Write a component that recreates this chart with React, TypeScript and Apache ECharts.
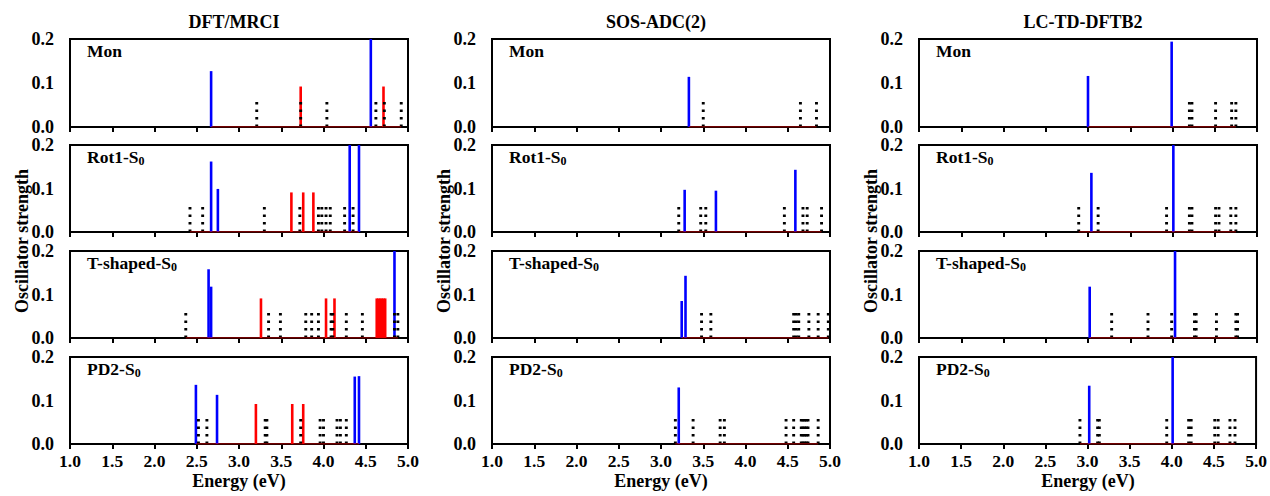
import { useEffect, useRef } from "react";
import * as echarts from "echarts";

type Stick = [number, number];

// ---- Column titles and panel names ----
const methods = ["DFT/MRCI", "SOS-ADC(2)", "LC-TD-DFTB2"];
const structures = ["Mon", "Rot1-S", "T-shaped-S", "PD2-S"];
const structureSub = ["", "0", "0", "0"];

const yTicks = [0, 0.1, 0.2];
const xMin = 1.0;
const xMax = 5.0;
const xStep = 0.5;
const darkHeight = 0.067;

// ---- DFT/MRCI ----
const mrciMonBlue: Stick[] = [[2.67, 0.127], [4.56, 0.2]];
const mrciMonRed: Stick[] = [[3.73, 0.092], [4.71, 0.092]];
const mrciMonDark = [3.21, 3.73, 4.04, 4.62, 4.72, 4.92];

const mrciRotBlue: Stick[] = [[2.67, 0.162], [2.75, 0.099], [4.31, 0.2], [4.42, 0.2]];
const mrciRotRed: Stick[] = [[3.62, 0.091], [3.76, 0.091], [3.88, 0.091]];
const mrciRotDark = [2.42, 2.57, 3.3, 3.72, 3.94, 3.98, 4.03, 4.08, 4.25, 4.35];

const mrciTBlue: Stick[] = [[2.64, 0.158], [2.67, 0.118], [4.84, 0.2]];
const mrciTRed: Stick[] = [
  [3.26, 0.091], [4.03, 0.091], [4.13, 0.091],
  [4.63, 0.091], [4.65, 0.091], [4.67, 0.091], [4.69, 0.091], [4.71, 0.091], [4.73, 0.091],
];
const mrciTDark = [2.37, 3.35, 3.49, 3.79, 3.86, 3.94, 4.09, 4.11, 4.27, 4.46, 4.84, 4.88];

const mrciPdBlue: Stick[] = [[2.49, 0.136], [2.74, 0.113], [4.37, 0.155], [4.42, 0.156]];
const mrciPdRed: Stick[] = [[3.2, 0.092], [3.63, 0.092], [3.76, 0.092]];
const mrciPdDark = [2.52, 2.62, 3.31, 3.33, 3.73, 3.96, 4.0, 4.16, 4.2, 4.27];

// ---- SOS-ADC(2) ----
const adcMonBlue: Stick[] = [[3.33, 0.114]];
const adcMonRed: Stick[] = [];
const adcMonDark = [3.5, 4.65, 4.84];

const adcRotBlue: Stick[] = [[3.28, 0.097], [3.65, 0.095], [4.59, 0.143]];
const adcRotRed: Stick[] = [];
const adcRotDark = [3.21, 3.47, 3.53, 4.46, 4.68, 4.73, 4.9];

const adcTBlue: Stick[] = [[3.245, 0.085], [3.29, 0.143]];
const adcTRed: Stick[] = [];
const adcTDark = [3.48, 3.59, 4.57, 4.6, 4.63, 4.75, 4.86, 4.98];

const adcPdBlue: Stick[] = [[3.21, 0.13]];
const adcPdRed: Stick[] = [];
const adcPdDark = [3.17, 3.38, 3.7, 3.75, 4.48, 4.57, 4.66, 4.68, 4.7, 4.72, 4.74, 4.86];

// ---- LC-TD-DFTB2 ----
const dftbMonBlue: Stick[] = [[3.0, 0.116], [3.99, 0.194]];
const dftbMonRed: Stick[] = [];
const dftbMonDark = [4.2, 4.23, 4.51, 4.7, 4.75];

const dftbRotBlue: Stick[] = [[3.04, 0.136], [4.01, 0.2]];
const dftbRotRed: Stick[] = [];
const dftbRotDark = [2.89, 3.12, 3.93, 4.2, 4.23, 4.51, 4.55, 4.69, 4.75];

const dftbTBlue: Stick[] = [[3.02, 0.118], [4.03, 0.2]];
const dftbTRed: Stick[] = [];
const dftbTDark = [3.28, 3.71, 3.99, 4.26, 4.28, 4.52, 4.75, 4.77];

const dftbPdBlue: Stick[] = [[3.02, 0.134], [4.01, 0.2]];
const dftbPdRed: Stick[] = [];
const dftbPdDark = [2.91, 3.12, 3.14, 3.94, 4.2, 4.23, 4.51, 4.55, 4.69, 4.75];

// panels[col][row]
const panels = [
  [
    { blue: mrciMonBlue, red: mrciMonRed, dark: mrciMonDark },
    { blue: mrciRotBlue, red: mrciRotRed, dark: mrciRotDark },
    { blue: mrciTBlue, red: mrciTRed, dark: mrciTDark },
    { blue: mrciPdBlue, red: mrciPdRed, dark: mrciPdDark },
  ],
  [
    { blue: adcMonBlue, red: adcMonRed, dark: adcMonDark },
    { blue: adcRotBlue, red: adcRotRed, dark: adcRotDark },
    { blue: adcTBlue, red: adcTRed, dark: adcTDark },
    { blue: adcPdBlue, red: adcPdRed, dark: adcPdDark },
  ],
  [
    { blue: dftbMonBlue, red: dftbMonRed, dark: dftbMonDark },
    { blue: dftbRotBlue, red: dftbRotRed, dark: dftbRotDark },
    { blue: dftbTBlue, red: dftbTRed, dark: dftbTDark },
    { blue: dftbPdBlue, red: dftbPdRed, dark: dftbPdDark },
  ],
];

const FONT = "'Liberation Serif', 'Times New Roman', serif";
const colLeft = [70, 492, 919];
const gridW = 338;
const rowTop = [39, 145, 251, 357];
const rowH = [88, 87, 87, 87];

function stickSeries(idx: number, data: Stick[], color: string, width: number, dash?: number[]) {
  return {
    type: "custom",
    xAxisIndex: idx,
    yAxisIndex: idx,
    data,
    encode: { x: 0, y: 1 },
    silent: true,
    renderItem: (_p: any, api: any) => {
      const x = api.value(0);
      const h = api.value(1);
      const p0 = api.coord([x, 0]);
      const p1 = api.coord([x, h]);
      return {
        type: "line",
        shape: { x1: p0[0], y1: p0[1], x2: p1[0], y2: p1[1] },
        style: { stroke: color, lineWidth: width, lineDash: dash || null, fill: null },
      };
    },
  };
}

export default function App() {
  const ref = useRef<HTMLDivElement>(null);
  useEffect(() => {
    if (!ref.current) return;
    const chart = echarts.init(ref.current, undefined, { renderer: "svg" });
    const grids: any[] = [];
    const xAxes: any[] = [];
    const yAxes: any[] = [];
    const series: any[] = [];
    const graphics: any[] = [];

    for (let c = 0; c < 3; c++) {
      for (let r = 0; r < 4; r++) {
        const idx = c * 4 + r;
        const p = panels[c][r];
        grids.push({
          left: colLeft[c],
          top: rowTop[r],
          width: gridW,
          height: rowH[r],
          show: true,
          borderColor: "#000",
          borderWidth: 2,
          backgroundColor: "transparent",
        });
        xAxes.push({
          type: "value",
          gridIndex: idx,
          min: xMin,
          max: xMax,
          interval: xStep,
          axisLine: { show: true, lineStyle: { color: "#000", width: 2 } },
          axisTick: { show: true, inside: false, length: 5, lineStyle: { color: "#000", width: 2 } },
          axisLabel: {
            show: r === 3,
            margin: 8,
            color: "#000",
            fontFamily: FONT,
            fontWeight: "bold",
            fontSize: 17.5,
            formatter: (v: number) => v.toFixed(1),
          },
          splitLine: { show: false },
        });
        yAxes.push({
          type: "value",
          gridIndex: idx,
          min: yTicks[0],
          max: yTicks[yTicks.length - 1],
          interval: yTicks[1] - yTicks[0],
          axisLine: { show: false },
          axisTick: { show: false },
          axisLabel: {
            show: true,
            margin: 16,
            color: "#000",
            fontFamily: FONT,
            fontWeight: "bold",
            fontSize: 18,
            formatter: (v: number) => v.toFixed(1),
          },
          splitLine: { show: false },
        });
        const allX = [...p.blue.map((s) => s[0]), ...p.red.map((s) => s[0]), ...p.dark];
        const bMin = Math.min(...allX);
        const bMax = Math.min(xMax, Math.max(...allX));
        series.push({
          type: "line",
          xAxisIndex: idx,
          yAxisIndex: idx,
          data: [[bMin, 0], [bMax, 0]],
          symbol: "none",
          silent: true,
          lineStyle: { color: "#e00000", width: 1.2 },
          z: 3,
        });
        series.push(stickSeries(idx, p.red, "#ff0000", 2.6));
        series.push(stickSeries(idx, p.blue, "#0000ff", 2.6));
        series.push(
          stickSeries(
            idx,
            p.dark.map((x) => [x, darkHeight] as Stick),
            "#000",
            2.9,
            [2.6, 4.9]
          )
        );
        // panel label
        const label = structureSub[r]
          ? `{a|${structures[r]}}{b|${structureSub[r]}}`
          : `{a|${structures[r]}}`;
        graphics.push({
          type: "text",
          left: colLeft[c] + 17,
          top: rowTop[r] + 3,
          style: {
            text: label,
            rich: {
              a: { fontFamily: FONT, fontWeight: "bold", fontSize: 17.5, fill: "#000", lineHeight: 20 },
              b: { fontFamily: FONT, fontWeight: "bold", fontSize: 12, fill: "#000", padding: [8, 0, 0, 0] },
            },
          },
        });
      }
      const cx = colLeft[c] + gridW / 2;
      graphics.push({
        type: "text",
        x: cx - 5,
        y: 22,
        style: {
          text: methods[c],
          align: "center",
          verticalAlign: "middle",
          fontFamily: FONT,
          fontWeight: "bold",
          fontSize: 18,
          fill: "#000",
        },
      });
      graphics.push({
        type: "text",
        x: cx,
        y: 481,
        style: {
          text: "Energy (eV)",
          align: "center",
          verticalAlign: "middle",
          fontFamily: FONT,
          fontWeight: "bold",
          fontSize: 18,
          fill: "#000",
        },
      });
      graphics.push({
        type: "text",
        x: colLeft[c] - 48,
        y: 241,
        rotation: Math.PI / 2,
        style: {
          text: "Oscillator strength",
          align: "center",
          verticalAlign: "middle",
          fontFamily: FONT,
          fontWeight: "bold",
          fontSize: 18,
          fill: "#000",
        },
      });
    }

    chart.setOption({
      animation: false,
      backgroundColor: "#fff",
      grid: grids,
      xAxis: xAxes,
      yAxis: yAxes,
      series,
      graphic: graphics,
    });
    return () => chart.dispose();
  }, []);
  return (
    <div
      ref={ref}
      style={{ position: "fixed", left: 0, top: 0, width: 1270, height: 496, background: "#fff" }}
    />
  );
}
